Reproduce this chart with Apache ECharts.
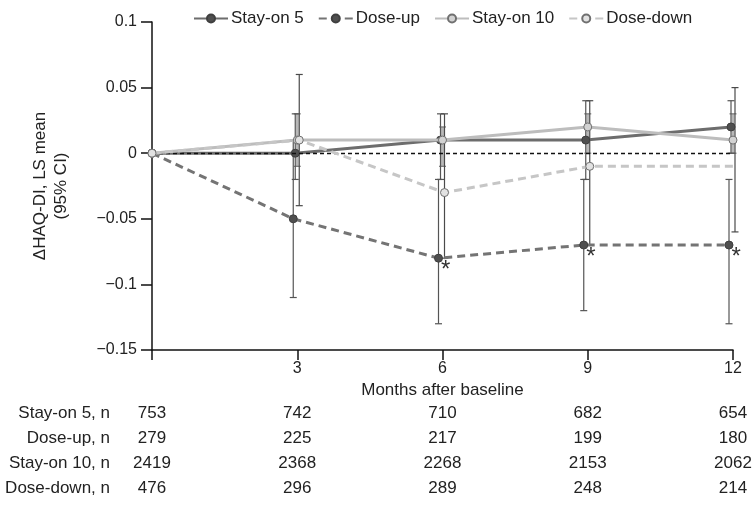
<!DOCTYPE html>
<html>
<head>
<meta charset="utf-8">
<script src="https://cdn.jsdelivr.net/npm/echarts@6/dist/echarts.min.js"></script>
<style>html,body{margin:0;padding:0;background:#fff;}#c{width:752px;height:514px;}</style>
</head>
<body>
<div id="c"></div>
<script>
// ---- data ----
const months = [0, 3, 6, 9, 12];
const seriesNames = ['Stay-on 5', 'Dose-up', 'Stay-on 10', 'Dose-down'];
const stayOn5 = [0, 0, 0.01, 0.01, 0.02];
const doseUp = [0, -0.05, -0.08, -0.07, -0.07];
const stayOn10 = [0, 0.01, 0.01, 0.02, 0.01];
const doseDown = [0, 0.01, -0.03, -0.01, -0.01];
const stayOn5Low = [null, -0.02, -0.02, -0.02, 0.00];
const stayOn5High = [null, 0.03, 0.03, 0.04, 0.04];
const doseUpLow = [null, -0.11, -0.13, -0.12, -0.13];
const doseUpHigh = [null, 0.01, -0.02, -0.02, -0.02];
const stayOn10Low = [null, -0.01, -0.01, 0.00, 0.00];
const stayOn10High = [null, 0.03, 0.02, 0.03, 0.03];
const doseDownLow = [null, -0.04, -0.08, -0.07, -0.06];
const doseDownHigh = [null, 0.06, 0.03, 0.04, 0.05];
const doseUpSignificant = [false, false, true, true, true];
const rowLabels = ['Stay-on 5, n', 'Dose-up, n', 'Stay-on 10, n', 'Dose-down, n'];
const nStayOn5 = [753, 742, 710, 682, 654];
const nDoseUp = [279, 225, 217, 199, 180];
const nStayOn10 = [2419, 2368, 2268, 2153, 2062];
const nDoseDown = [476, 296, 289, 248, 214];

// ---- layout / style ----
const FONT = '"Liberation Sans", Arial, sans-serif';
const TXT = '#222';
const gridLeft = 152, gridRight = 19, gridTop = 22, gridBottom = 164;
const plotW = 752 - gridLeft - gridRight;
const monthsPerPx = 12 / plotW;
const dodgePx = [-2, -4, 0, 2];
const lineColors = ['#6d6d6d', '#747474', '#bdbdbd', '#c6c6c6'];
const markerFill = ['#4f4f4f', '#4f4f4f', '#d2d2d2', '#e2e2e2'];
const markerBorder = ['#3f3f3f', '#3f3f3f', '#707070', '#707070'];
const barColors = ['#555555', '#555555', '#b8b8b8', '#4a4a4a'];
const barWidths = [1.2, 1.2, 3, 1.2];
const lineTypes = ['solid', [8, 5], 'solid', [8, 5]];
const tableRowsY = [413, 438, 463, 488];

const values = [stayOn5, doseUp, stayOn10, doseDown];
const lows = [stayOn5Low, doseUpLow, stayOn10Low, doseDownLow];
const highs = [stayOn5High, doseUpHigh, stayOn10High, doseDownHigh];
const counts = [nStayOn5, nDoseUp, nStayOn10, nDoseDown];

function fmtY(v) {
  const r = Math.round(v * 100) / 100;
  if (r === 0) return '0';
  return (r < 0 ? '\u2212' : '') + String(Math.abs(r));
}

const series = [];
seriesNames.forEach((name, s) => {
  const data = months.map((m, i) => {
    const item = {value: [m + (m === 0 ? 0 : dodgePx[s] * monthsPerPx), values[s][i]]};
    if (s === 1 && doseUpSignificant[i]) {
      item.label = {show: true, formatter: '*', position: 'right', distance: 0, offset: [-2, 12],
        fontSize: 24, color: '#333', fontFamily: FONT};
    }
    return item;
  });
  series.push({
    name: name, type: 'line', data: data, z: 3 + s,
    symbol: 'circle', symbolSize: 8,
    lineStyle: {color: lineColors[s], width: 3, type: lineTypes[s]},
    itemStyle: {color: markerFill[s], borderColor: markerBorder[s], borderWidth: 1},
    emphasis: {disabled: true}, animation: false,
    markLine: s === 0 ? {silent: true, symbol: 'none', label: {show: false},
      lineStyle: {color: '#111', type: [4, 3], width: 1.3},
      data: [{yAxis: 0}]} : undefined
  });
});

// error bars
seriesNames.forEach((name, s) => {
  const data = [];
  months.forEach((m, i) => {
    if (lows[s][i] !== null) data.push([m, lows[s][i], highs[s][i]]);
  });
  series.push({
    type: 'custom', name: name + ' CI', z: 2 + (s === 2 ? 0 : 1),
    data: data, silent: true, animation: false,
    encode: {x: 0, y: [1, 2]},
    renderItem: function (params, api) {
      const x = api.value(0);
      const lo = api.coord([x, api.value(1)]);
      const hi = api.coord([x, api.value(2)]);
      const px = lo[0] + dodgePx[s];
      const cap = 3.5;
      const st = {stroke: barColors[s], lineWidth: barWidths[s], fill: null};
      const capSt = {stroke: s === 2 ? '#777' : barColors[s], lineWidth: 1.2};
      return {type: 'group', children: [
        {type: 'line', shape: {x1: px, y1: lo[1], x2: px, y2: hi[1]}, style: st},
        {type: 'line', shape: {x1: px - cap, y1: lo[1], x2: px + cap, y2: lo[1]}, style: capSt},
        {type: 'line', shape: {x1: px - cap, y1: hi[1], x2: px + cap, y2: hi[1]}, style: capSt}
      ]};
    }
  });
});

const chart = echarts.init(document.getElementById('c'), null, {renderer: 'canvas'});
chart.setOption({
  backgroundColor: '#fff',
  animation: false,
  textStyle: {fontFamily: FONT},
  legend: {
    data: seriesNames, top: 5, left: 188,
    itemWidth: 34, itemHeight: 10, itemGap: 14,
    textStyle: {fontSize: 17, color: TXT, fontFamily: FONT, padding: [0, 0, 0, -2]}
  },
  grid: {left: gridLeft, right: gridRight, top: gridTop, bottom: gridBottom, containLabel: false},
  xAxis: {
    type: 'value', min: 0, max: 12, interval: 3,
    name: 'Months after baseline', nameLocation: 'middle', nameGap: 31,
    nameTextStyle: {fontSize: 17, color: TXT, fontFamily: FONT},
    axisLine: {show: true, onZero: false, lineStyle: {color: '#111', width: 1.5}},
    axisTick: {show: true, length: 10, lineStyle: {color: '#111', width: 1.5}},
    axisLabel: {fontSize: 16, color: TXT, margin: 11, fontFamily: FONT,
      formatter: v => v === 0 ? '' : String(v)},
    splitLine: {show: false}
  },
  yAxis: {
    type: 'value', min: -0.15, max: 0.1, interval: 0.05,
    name: '\u0394HAQ-DI, LS mean\n(95% CI)', nameLocation: 'middle', nameGap: 80, nameRotate: 90,
    nameTextStyle: {fontSize: 17, color: TXT, fontFamily: FONT, lineHeight: 21, align: 'center'},
    axisLine: {show: true, onZero: false, lineStyle: {color: '#111', width: 1.5}},
    axisTick: {show: true, length: 11, lineStyle: {color: '#111', width: 1.5}},
    axisLabel: {fontSize: 16, color: TXT, margin: 15, fontFamily: FONT, formatter: fmtY},
    splitLine: {show: false}
  },
  series: series
});

// n-at-risk table under the axis, columns aligned to axis positions
const graphics = [];
rowLabels.forEach((lab, r) => {
  graphics.push({type: 'text', x: 110, y: tableRowsY[r],
    style: {text: lab, font: '17px ' + FONT, fill: TXT, align: 'right', verticalAlign: 'middle'}});
  months.forEach((m, i) => {
    const px = chart.convertToPixel({xAxisIndex: 0}, m);
    graphics.push({type: 'text', x: px, y: tableRowsY[r],
      style: {text: String(counts[r][i]), font: '17px ' + FONT, fill: TXT,
        align: 'center', verticalAlign: 'middle'}});
  });
});
chart.setOption({graphic: graphics});
</script>
</body>
</html>
